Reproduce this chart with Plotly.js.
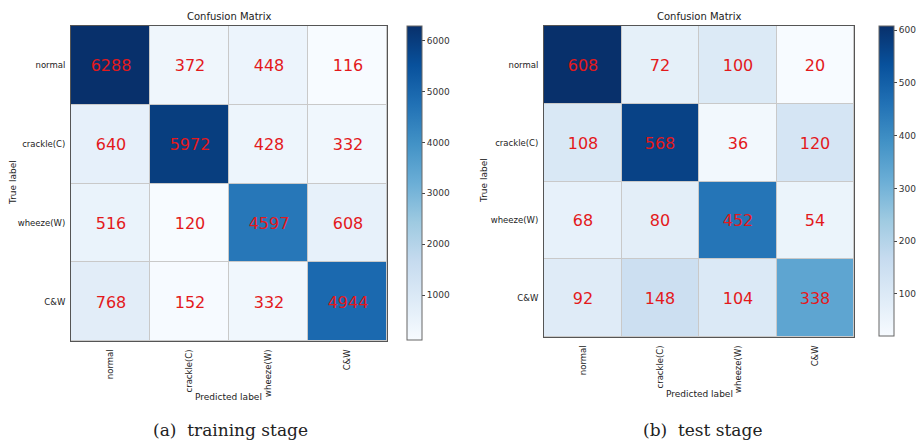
<!DOCTYPE html>
<html>
<head>
<meta charset="utf-8">
<script src="https://cdn.plot.ly/plotly-3.0.1.min.js"></script>
<style>html,body{margin:0;padding:0;background:#fff;}#chart{width:917px;height:440px;}</style>
</head>
<body>
<div id="chart"></div>
<script>
const predictedLabels = ['normal', 'crackle(C)', 'wheeze(W)', 'C&W'];
const trueLabels = ['normal', 'crackle(C)', 'wheeze(W)', 'C&W'];
const trainValues = [
  [6288, 372, 448, 116],
  [640, 5972, 428, 332],
  [516, 120, 4597, 608],
  [768, 152, 332, 4944]
];
const testValues = [
  [608, 72, 100, 20],
  [108, 568, 36, 120],
  [68, 80, 452, 54],
  [92, 148, 104, 338]
];
const trainTicks = [1000, 2000, 3000, 4000, 5000, 6000];
const testTicks = [100, 200, 300, 400, 500, 600];

const blues = [
  [0.0, '#f7fbff'], [0.125, '#deebf7'], [0.25, '#c6dbef'], [0.375, '#9ecae1'],
  [0.5, '#6baed6'], [0.625, '#4292c6'], [0.75, '#2171b5'], [0.875, '#08519c'], [1.0, '#08306b']
];
const flat = a => a.reduce((s, r) => s.concat(r), []);

function hm(z, xa, ya, ticks, cbx, thick, lenpx) {
  const f = flat(z);
  return {
    type: 'heatmap', x: predictedLabels, y: trueLabels, z: z,
    xaxis: xa, yaxis: ya,
    zmin: Math.min(...f), zmax: Math.max(...f),
    colorscale: blues, xgap: 1, ygap: 1,
    texttemplate: '%{z}', textfont: {color: '#e3191c', size: 16, family: 'DejaVu Sans'},
    hoverinfo: 'none',
    colorbar: {
      x: cbx, xanchor: 'left', xref: 'paper', y: 1 - 26/440, yanchor: 'top',
      len: lenpx, lenmode: 'pixels', thickness: thick, thicknessmode: 'pixels',
      outlinewidth: 1, outlinecolor: '#666', xpad: 0, ypad: 0,
      tickvals: ticks, ticks: 'outside', ticklen: 3, tickcolor: '#444',
      tickfont: {size: 9, color: '#333', family: 'DejaVu Sans'}
    }
  };
}

const data = [
  hm(trainValues, 'x', 'y', trainTicks, 407/917, 15, 314),
  hm(testValues, 'x2', 'y2', testTicks, 879/917, 15, 310)
];

const axFont = {size: 8.5, color: '#222', family: 'DejaVu Sans'};
function xax(dom, anchor) {
  return {domain: dom, anchor: anchor, tickangle: -90, tickfont: axFont, ticks: 'outside', ticklen: 4,
    tickcolor: 'rgba(0,0,0,0)', showline: true, mirror: true, linecolor: '#555', linewidth: 1, showgrid: false,
    zeroline: false, fixedrange: true};
}
function yax(dom, anchor) {
  return {domain: dom, anchor: anchor, autorange: 'reversed', tickfont: axFont, ticks: 'outside', ticklen: 3,
    tickcolor: 'rgba(0,0,0,0)', showline: true, mirror: true, linecolor: '#555', linewidth: 1, showgrid: false,
    zeroline: false, fixedrange: true};
}

const txt = (t, x, y, opts) => Object.assign({text: t, x: x, y: y, xref: 'paper', yref: 'paper',
  showarrow: false, xanchor: 'center', yanchor: 'middle', font: {size: 9, color: '#222', family: 'DejaVu Sans'}}, opts || {});

const layout = {
  width: 917, height: 440,
  margin: {l: 0, r: 0, t: 0, b: 0},
  paper_bgcolor: '#fff', plot_bgcolor: '#c9c9c9',
  showlegend: false,
  xaxis: xax([71/917, 387/917], 'y'),
  yaxis: yax([1 - 341/440, 1 - 26/440], 'x'),
  xaxis2: xax([544/917, 854/917], 'y2'),
  yaxis2: yax([1 - 337/440, 1 - 26/440], 'x2'),
  annotations: [
    txt('Confusion Matrix', 229/917, 1 - 17/440, {font: {size: 10, color: '#222', family: 'DejaVu Sans'}}),
    txt('Confusion Matrix', 699/917, 1 - 17/440, {font: {size: 10, color: '#222', family: 'DejaVu Sans'}}),
    txt('Predicted label', 228/917, 1 - 397/440),
    txt('Predicted label', 699/917, 1 - 394/440),
    txt('True label', 13/917, 1 - 183/440, {textangle: -90}),
    txt('True label', 484/917, 1 - 181/440, {textangle: -90}),
    txt('(a)  training stage', 231/917, 1 - 430/440, {font: {size: 17, color: '#222', family: 'DejaVu Serif'}}),
    txt('(b)  test stage', 702/917, 1 - 430/440, {font: {size: 17, color: '#222', family: 'DejaVu Serif'}})
  ]
};

Plotly.newPlot('chart', data, layout, {staticPlot: true, displayModeBar: false});
</script>
</body>
</html>
